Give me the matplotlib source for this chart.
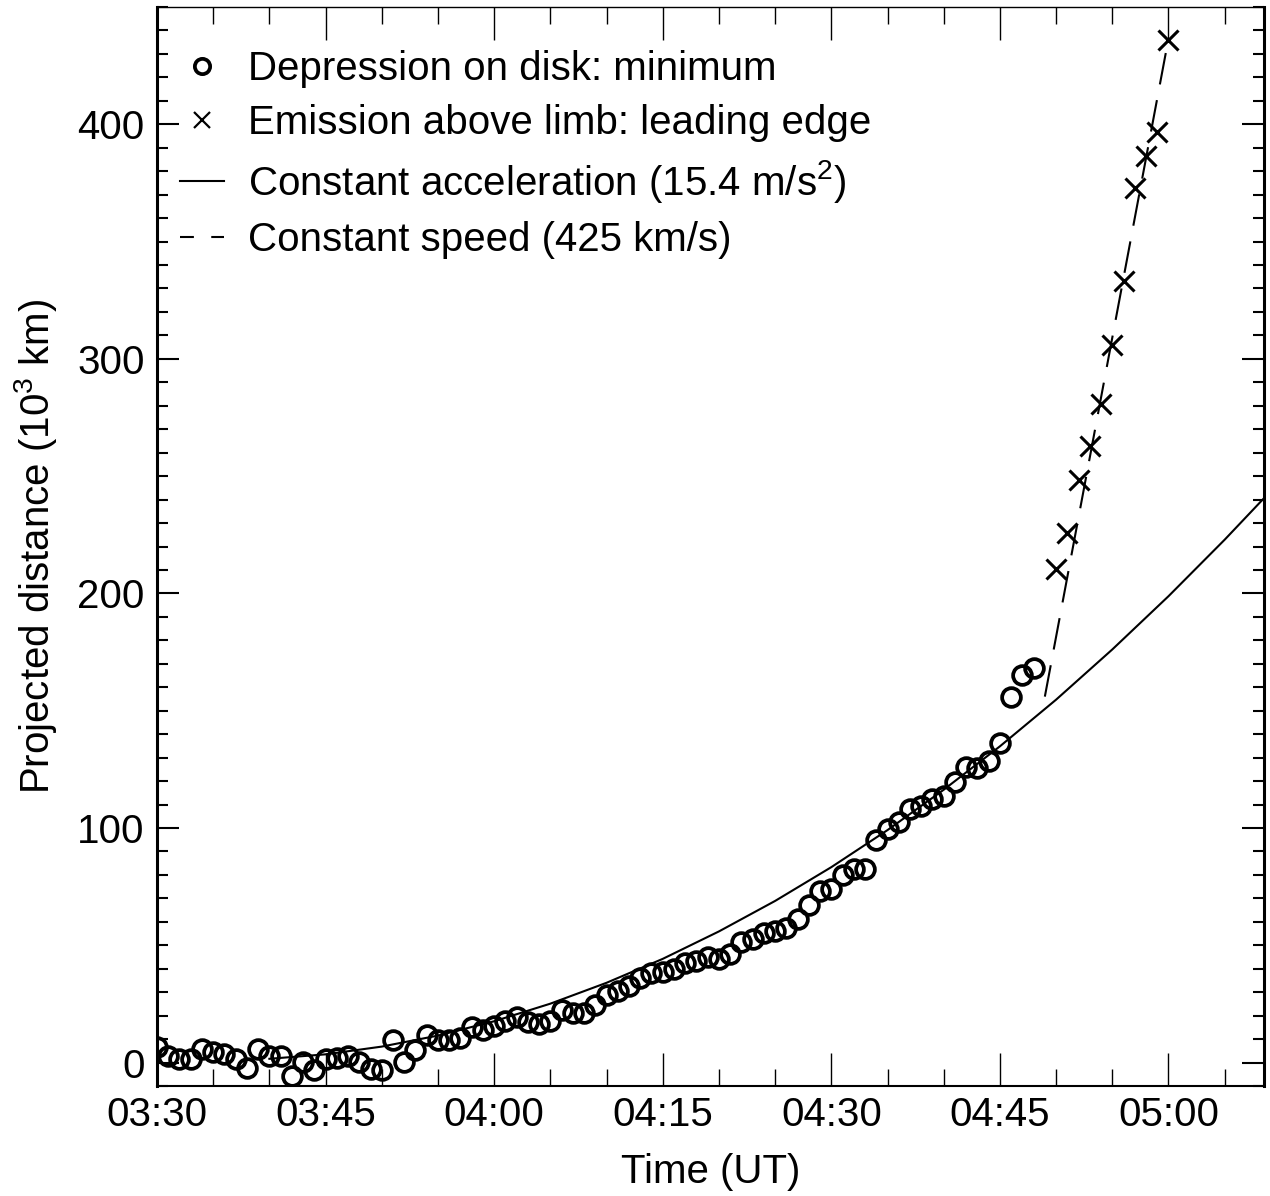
import matplotlib
matplotlib.use("Agg")
import matplotlib.pyplot as plt
import matplotlib.dates as mdates
from matplotlib.ticker import MultipleLocator
from matplotlib.lines import Line2D
import pandas as pd

plt.rcParams['font.family'] = ['Liberation Sans', 'DejaVu Sans']
plt.rcParams['mathtext.default'] = 'regular'
plt.rcParams['lines.scale_dashes'] = False

DAY = "2000-01-01 "

# depression on disk: minimum, one point per minute from 03:30 (10^3 km)
depression = [6.6, 2.8, 1.5, 1.5, 5.8, 4.5, 3.6, 1.5, -2.3, 5.8,
              2.8, 2.8, -5.8, 0.2, -3.2, 1.5, 1.9, 2.8, 0.2, -2.8,
              -3.2, 9.6, 0.2, 5.3, 11.7, 9.6, 9.6, 10.4, 15.1, 13.8,
              15.6, 17.7, 19.4, 17.3, 16.4, 17.7, 22.4, 21.1, 21.1, 24.5,
              28.8, 30.5, 32.6, 36.0, 38.2, 38.6, 39.9, 42.4, 43.3, 45.0,
              44.1, 46.3, 51.4, 52.7, 55.2, 56.1, 57.3, 61.2, 67.1, 73.1,
              74.0, 79.9, 82.5, 82.5, 94.9, 99.6, 102.5, 108.1, 109.4, 112.3,
              113.6, 119.6, 126.0, 125.5, 128.5, 136.2, 155.8, 165.2, 168.2]
depression_start = "03:30"

# emission above limb: leading edge, one point per minute from 04:50
emission = [210.4, 225.7, 248.3, 262.8, 280.7, 305.8, 333.1, 372.7, 386.3, 396.6, 435.8]
emission_start = "04:50"

# constant acceleration fit
accel_times = ["03:40", "03:45", "03:50", "03:55", "04:00", "04:05", "04:10", "04:15",
               "04:20", "04:25", "04:30", "04:35", "04:40", "04:45", "04:50", "04:55",
               "05:00", "05:05", "05:08:30"]
accel_vals = [1.6, 3.5, 6.8, 11.5, 17.6, 25.1, 34.0, 44.2, 55.9, 68.9, 83.3, 99.1,
              116.3, 134.8, 154.7, 176.1, 198.8, 222.9, 240.6]

# constant speed fit
speed_times = ["04:49", "05:00"]
speed_vals = [156.0, 436.5]

xlim_times = ["03:30", "05:08:30"]
ylim_vals = [-10, 450]


def to_time(t):
    return pd.to_datetime(DAY + t)


dep_t = pd.date_range(to_time(depression_start), periods=len(depression), freq="1min")
emi_t = pd.date_range(to_time(emission_start), periods=len(emission), freq="1min")
acc_t = [to_time(t) for t in accel_times]
spd_t = [to_time(t) for t in speed_times]

FS = 29

fig = plt.figure(figsize=(12.7, 11.96), dpi=100)
ax = fig.add_axes([157 / 1270, 1 - 1086 / 1196, (1264 - 157) / 1270, (1086 - 7) / 1196])

ax.plot(acc_t, accel_vals, color='k', lw=1.5)
ax.plot(spd_t, speed_vals, color='k', lw=1.5, dashes=(23, 11.5))
ax.plot(dep_t, depression, 'o', ms=13.5, mfc='none', mec='k', mew=2.7)
ax.plot(emi_t, emission, 'x', ms=14, color='k', mew=2.2)

ax.set_xlim(to_time(xlim_times[0]), to_time(xlim_times[1]))
ax.set_ylim(*ylim_vals)

ax.xaxis.set_major_locator(mdates.MinuteLocator(byminute=[0, 15, 30, 45]))
ax.xaxis.set_minor_locator(mdates.MinuteLocator(byminute=range(0, 60, 5)))
ax.xaxis.set_major_formatter(mdates.DateFormatter('%H:%M'))
ax.yaxis.set_major_locator(MultipleLocator(100))
ax.yaxis.set_minor_locator(MultipleLocator(10))

ax.tick_params(axis='x', which='major', direction='in', length=24, width=1, top=True, labelsize=FS, pad=7)
ax.tick_params(axis='x', which='minor', direction='in', length=12, width=1, top=True)
ax.tick_params(axis='y', which='major', direction='in', length=16, width=1.5, right=True, labelsize=FS, pad=9)
ax.tick_params(axis='y', which='minor', direction='in', length=8, width=1.5, right=True)

ax.spines['left'].set_linewidth(2.2)
ax.spines['right'].set_linewidth(2.2)
ax.spines['bottom'].set_linewidth(1.5)
ax.spines['top'].set_linewidth(1.0)

ax.set_xlabel('Time (UT)', fontsize=FS, labelpad=14)
ax.set_ylabel('Projected distance (10$^3$ km)', fontsize=FS, labelpad=13)

handles = [
    Line2D([], [], ls='none', marker='o', ms=11, mfc='none', mec='k', mew=2.7),
    Line2D([], [], ls='none', marker='x', ms=11, color='k', mew=1.6),
    Line2D([], [], color='k', lw=1.5),
    Line2D([], [], color='k', lw=1.5, dashes=(10, 12.5)),
]
labels = ['Depression on disk: minimum',
          'Emission above limb: leading edge',
          'Constant acceleration (15.4 m/s$^2$)',
          'Constant speed (425 km/s)']
ax.legend(handles, labels, loc='upper left', bbox_to_anchor=(0.021, 0.96), frameon=False,
          fontsize=FS, handlelength=1.08, handletextpad=0.6, labelspacing=0.40,
          borderpad=0, borderaxespad=0)

fig.savefig('out.png', dpi=100)
